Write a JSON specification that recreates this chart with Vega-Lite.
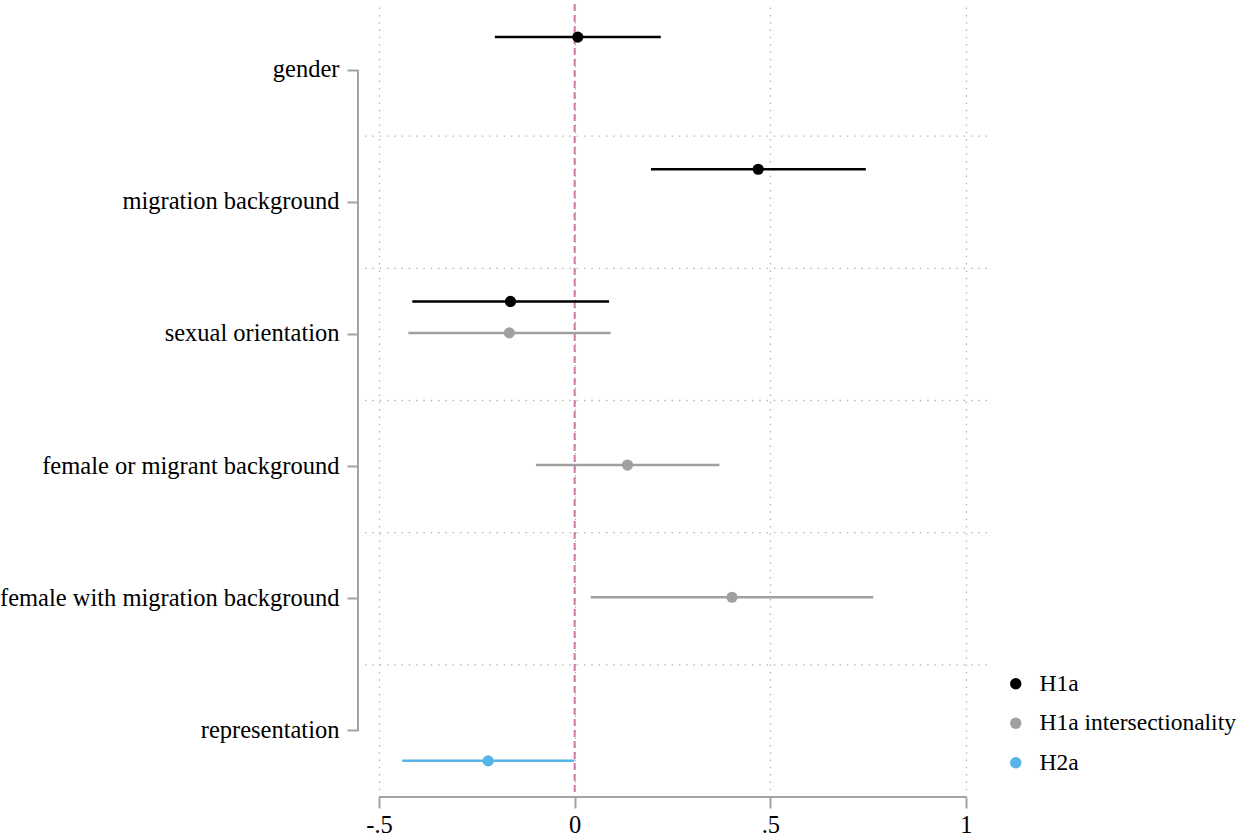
{
  "$schema": "https://vega.github.io/schema/vega-lite/v6.json",
  "autosize": {"type": "none"},
  "padding": {"left": 365, "top": 4, "right": 257, "bottom": 42},
  "width": 622,
  "height": 793,
  "background": "white",
  "config": {
    "view": {"stroke": null},
    "font": "Liberation Serif",
    "axisY": {"domain": false, "grid": false, "ticks": true, "tickSize": 11, "tickWidth": 2, "tickColor": "#a3a3a3", "offset": 7, "labelFontSize": 24.5, "labelFont": "Liberation Serif", "labelColor": "#000000", "labelPadding": 8, "labelLimit": 0},
    "axisX": {"domain": false, "grid": true, "gridColor": "#b5b5b5", "gridDash": [1.5, 5.8], "gridWidth": 1.3, "ticks": true, "tickSize": 11, "tickWidth": 2, "tickColor": "#a3a3a3", "labelFontSize": 24.5, "labelFont": "Liberation Serif", "labelColor": "#000000", "labelPadding": 5},
    "legend": {"labelFontSize": 23.5, "labelFont": "Liberation Serif", "labelColor": "#000000", "labelLimit": 0}
  },
  "datasets": {
    "est": [
      {"variable": "gender", "model": "H1a", "est": 0.008, "lo": -0.204, "hi": 0.220},
      {"variable": "migration background", "model": "H1a", "est": 0.469, "lo": 0.195, "hi": 0.744},
      {"variable": "sexual orientation", "model": "H1a", "est": -0.164, "lo": -0.415, "hi": 0.088},
      {"variable": "sexual orientation", "model": "H1a intersectionality", "est": -0.167, "lo": -0.425, "hi": 0.092},
      {"variable": "female or migrant background", "model": "H1a intersectionality", "est": 0.135, "lo": -0.099, "hi": 0.370},
      {"variable": "female with migration background", "model": "H1a intersectionality", "est": 0.402, "lo": 0.041, "hi": 0.763},
      {"variable": "representation", "model": "H2a", "est": -0.221, "lo": -0.441, "hi": -0.001}
    ],
    "cats": [
      {"variable": "gender"},
      {"variable": "migration background"},
      {"variable": "sexual orientation"},
      {"variable": "female or migrant background"},
      {"variable": "female with migration background"}
    ],
    "one": [{"k": 1}]
  },
  "layer": [
    {
      "data": {"name": "cats"},
      "mark": {"type": "rule", "color": "#b5b5b5", "strokeDash": [1.5, 5.8], "strokeWidth": 1.3},
      "encoding": {
        "y": {"field": "variable", "type": "nominal", "bandPosition": 1, "title": null,
              "scale": {"domain": ["gender", "migration background", "sexual orientation", "female or migrant background", "female with migration background", "representation"], "paddingInner": 0, "paddingOuter": 0}},
        "x": {"datum": -0.5358, "type": "quantitative", "title": null,
              "scale": {"domain": [-0.5358, 1.0537], "nice": false, "zero": false},
              "axis": {"values": [-0.5, 0, 0.5, 1], "labelExpr": "datum.value == 0 ? '0' : datum.value == 1 ? '1' : datum.value == 0.5 ? '.5' : '-.5'"}},
        "x2": {"datum": 1.0537}
      }
    },
    {
      "data": {"name": "one"},
      "mark": {"type": "rule", "color": "#cc79a7", "strokeDash": [7, 4], "strokeWidth": 2},
      "encoding": {"x": {"datum": 0, "type": "quantitative", "title": null}}
    },
    {
      "data": {"name": "one"},
      "mark": {"type": "rule", "color": "#a3a3a3", "strokeWidth": 2},
      "encoding": {
        "x": {"datum": -0.5537, "type": "quantitative", "title": null},
        "y": {"datum": "gender", "type": "nominal", "title": null},
        "y2": {"datum": "representation"}
      }
    },
    {
      "data": {"name": "one"},
      "mark": {"type": "rule", "color": "#a3a3a3", "strokeWidth": 2},
      "encoding": {
        "x": {"datum": -0.5, "type": "quantitative", "title": null},
        "x2": {"datum": 1},
        "y": {"datum": "representation", "type": "nominal", "bandPosition": 1, "title": null}
      }
    },
    {
      "data": {"name": "est"},
      "mark": {"type": "rule", "strokeWidth": 2.5},
      "encoding": {
        "y": {"field": "variable", "type": "nominal", "title": null},
        "yOffset": {"field": "model", "type": "nominal", "scale": {"domain": ["H1a", "H1a intersectionality", "H2a"], "paddingInner": 0, "paddingOuter": 0.6, "align": 0.46}},
        "x": {"field": "lo", "type": "quantitative", "title": null},
        "x2": {"field": "hi"},
        "color": {"field": "model", "type": "nominal",
                  "scale": {"domain": ["H1a", "H1a intersectionality", "H2a"], "range": ["#000000", "#a0a0a0", "#56b4e9"]}}
      }
    },
    {
      "data": {"name": "est"},
      "mark": {"type": "point", "filled": true, "size": 125, "opacity": 1, "shape": "circle"},
      "encoding": {
        "y": {"field": "variable", "type": "nominal", "title": null},
        "yOffset": {"field": "model", "type": "nominal"},
        "x": {"field": "est", "type": "quantitative", "title": null},
        "color": {"field": "model", "type": "nominal",
                  "legend": {"title": null, "orient": "none", "legendX": 639, "legendY": 668, "padding": 0, "symbolType": "circle", "symbolSize": 130, "symbolStrokeWidth": 0, "symbolOpacity": 1, "labelOffset": 12, "rowPadding": 14.5}}
      }
    }
  ]
}
